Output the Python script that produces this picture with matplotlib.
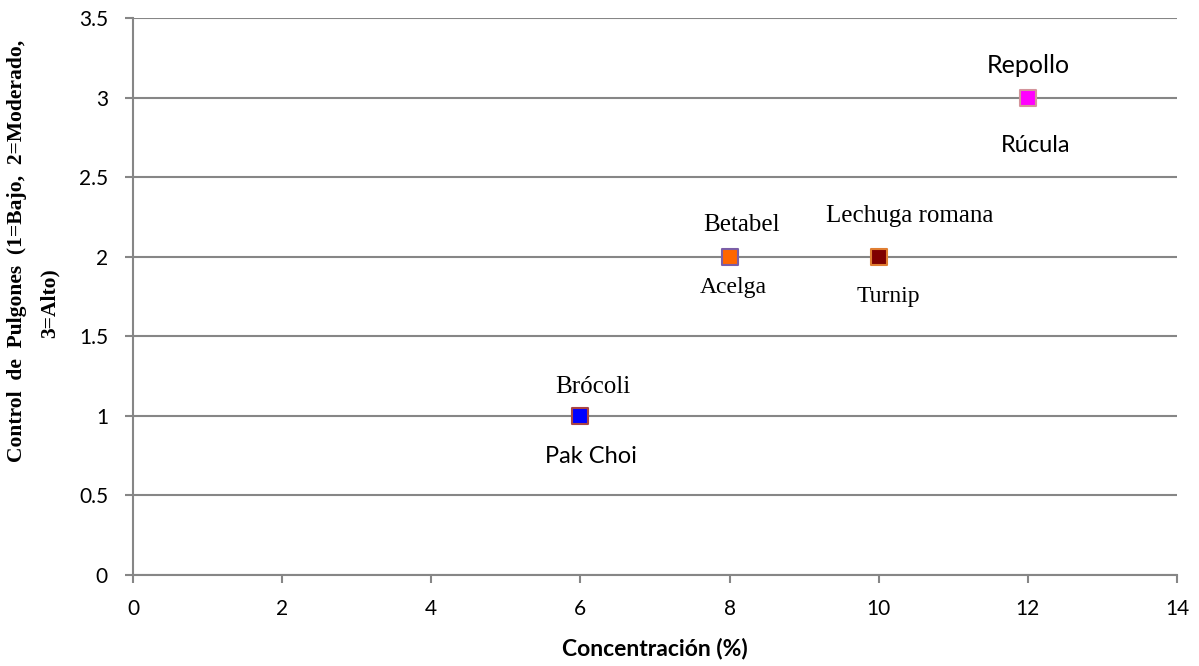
import matplotlib
matplotlib.use("Agg")
import matplotlib.pyplot as plt

# Aphid control rating by concentration for each crop
crops = ["Brócoli", "Betabel", "Lechuga romana", "Repollo"]
partners = ["Pak Choi", "Acelga", "Turnip", "Rúcula"]
concentration = [6, 8, 10, 12]
control = [1, 2, 2, 3]
face_colors = ["#0000FF", "#FF6600", "#7F0000", "#FF00FF"]
edge_colors = ["#A94444", "#7B5EA7", "#E07E32", "#D3949B"]
top_fonts = ["Liberation Serif", "Liberation Serif", "Liberation Serif", "Lato"]
bottom_fonts = ["Lato", "Liberation Serif", "Liberation Serif", "Lato"]
# label offsets in pixels: (horizontal shift of centre, baseline shift)
top_shift = [(12, 23), (12, 26), (31, 35), (0, 25)]
bottom_shift = [(11, -47), (4, -36), (10, -45), (8, -54)]

x_ticks = [0, 2, 4, 6, 8, 10, 12, 14]
y_ticks = [0, 0.5, 1, 1.5, 2, 2.5, 3, 3.5]
y_title = ["Control  de  Pulgones  (1=Bajo,  2=Moderado,", "3=Alto)"]

grid_gray = "#868686"
W, H = 1199, 666

fig = plt.figure(figsize=(W / 100, H / 100), dpi=100)
ax = fig.add_axes([133 / W, 91 / H, (1177 - 133) / W, (575 - 18) / H])

ax.set_xlim(x_ticks[0], x_ticks[-1])
ax.set_ylim(y_ticks[0], y_ticks[-1])
ax.set_xticks(x_ticks)
ax.set_yticks(y_ticks)
ax.set_xticklabels([str(v) for v in x_ticks])
ax.set_yticklabels([f"{v:g}" for v in y_ticks])

ax.grid(axis="y", color=grid_gray, linewidth=1.5)
ax.set_axisbelow(True)
for side in ["top", "right"]:
    ax.spines[side].set_visible(False)
for side in ["left", "bottom"]:
    ax.spines[side].set_color(grid_gray)
    ax.spines[side].set_linewidth(1.5)

ax.tick_params(axis="both", colors=grid_gray, length=6, width=1.5,
               labelcolor="black", labelsize=15)
ax.tick_params(axis="x", pad=11)
ax.tick_params(axis="y", pad=12)
for lbl in ax.get_xticklabels() + ax.get_yticklabels():
    lbl.set_family("Lato")

for i in range(len(crops)):
    ax.scatter(concentration[i], control[i], marker="s", s=120,
               facecolor=face_colors[i], edgecolor=edge_colors[i],
               linewidth=1.5, zorder=3)
    ax.annotate(crops[i], (concentration[i], control[i]),
                xytext=top_shift[i], textcoords="offset pixels",
                ha="center", va="baseline", fontsize=18,
                family=top_fonts[i])
    ax.annotate(partners[i], (concentration[i], control[i]),
                xytext=bottom_shift[i], textcoords="offset pixels",
                ha="center", va="baseline", fontsize=17,
                family=bottom_fonts[i])

ax.set_xlabel("Concentración (%)", family="Lato", fontweight="bold",
              fontsize=16.5, labelpad=14)

# two-line rotated axis title, each line placed on its own
fig.text(17 / W, 1 - 251 / H, y_title[0], rotation=90, ha="center",
         va="center", family="Liberation Serif", fontweight="bold",
         fontsize=15.5)
fig.text(50 / W, 1 - 303 / H, y_title[1], rotation=90, ha="center",
         va="center", family="Liberation Serif", fontweight="bold",
         fontsize=15.5)

fig.savefig("out.png", dpi=100)
